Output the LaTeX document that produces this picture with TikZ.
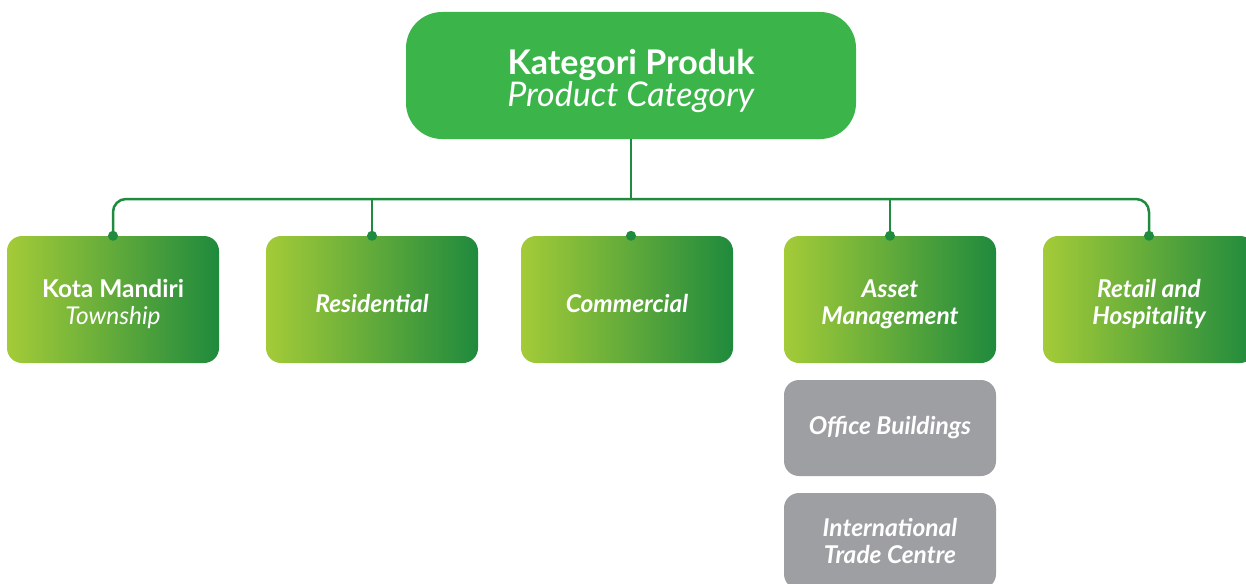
\documentclass[tikz,border=0pt]{standalone}
\usepackage{fontspec}
\setmainfont{Lato}
\usepackage{tikz}

\definecolor{rootgreen}{HTML}{3BB54A}
\definecolor{limegreen}{HTML}{A4CB38}
\definecolor{deepgreen}{HTML}{1F8A3D}
\definecolor{linkgreen}{HTML}{1E8B3F}
\definecolor{boxgray}{HTML}{9D9FA2}

% taller first line, to push box text a little down
\newcommand{\rootstrut}{\rule{0pt}{36pt}}
\newcommand{\catstrut}{\rule{0pt}{27pt}}

\tikzset{
  rootbox/.style={fill=rootgreen, rounded corners=36pt, minimum width=450pt,
    minimum height=127pt, text=white, align=center,
    font=\fontsize{34}{32}\selectfont},
  catbox/.style={left color=limegreen, right color=deepgreen, rounded corners=15pt,
    minimum width=212pt, minimum height=127pt, text=white, align=center,
    font=\fontsize{24.5}{27}\selectfont\bfseries\itshape},
  subbox/.style={fill=boxgray, rounded corners=15pt, minimum width=212pt,
    minimum height=96pt, text=white, align=center,
    font=\fontsize{24.5}{27}\selectfont\bfseries\itshape},
  link/.style={draw=linkgreen, line width=2.5pt}
}

\begin{document}
\begin{tikzpicture}[x=1pt, y=-1pt]
            \useasboundingbox (0, 0) rectangle (1246, 583);

            \node[rootbox] (root) at (631, 75.5) {\rootstrut\textbf{Kategori Produk}\\\textit{Product Category}};

            \node[catbox] (kota) at (113, 299.5) {\catstrut\textup{Kota Mandiri}\\\mdseries Township};
            \node[catbox] (resi) at (372, 299.5) {\catstrut Residential};
            \node[catbox] (comm) at (627, 299.5) {\catstrut Commercial};
            \node[catbox] (asset) at (890, 299.5) {\catstrut Asset\\Management};
            \node[catbox] (retail) at (1149, 299.5) {\catstrut Retail and\\Hospitality};

            \node[subbox] (office) at (890, 428) {Office Buildings};
            \node[subbox] (itc) at (890, 541) {International\\Trade Centre};

            \coordinate (bus) at (631, 199);

            \draw[link, rounded corners=13pt] (kota.north) |- (bus) -| (retail.north);
            \draw[link] (root.south) -- (bus);
            \draw[link] (resi.north) -- (resi.north |- bus);
            \draw[link] (asset.north) -- (asset.north |- bus);

            \foreach \n in {kota, resi, asset, retail}
              \fill[linkgreen] (\n.north) circle (5pt);
            \fill[linkgreen] (bus |- comm.north) circle (5pt);

        \end{tikzpicture}
\end{document}
